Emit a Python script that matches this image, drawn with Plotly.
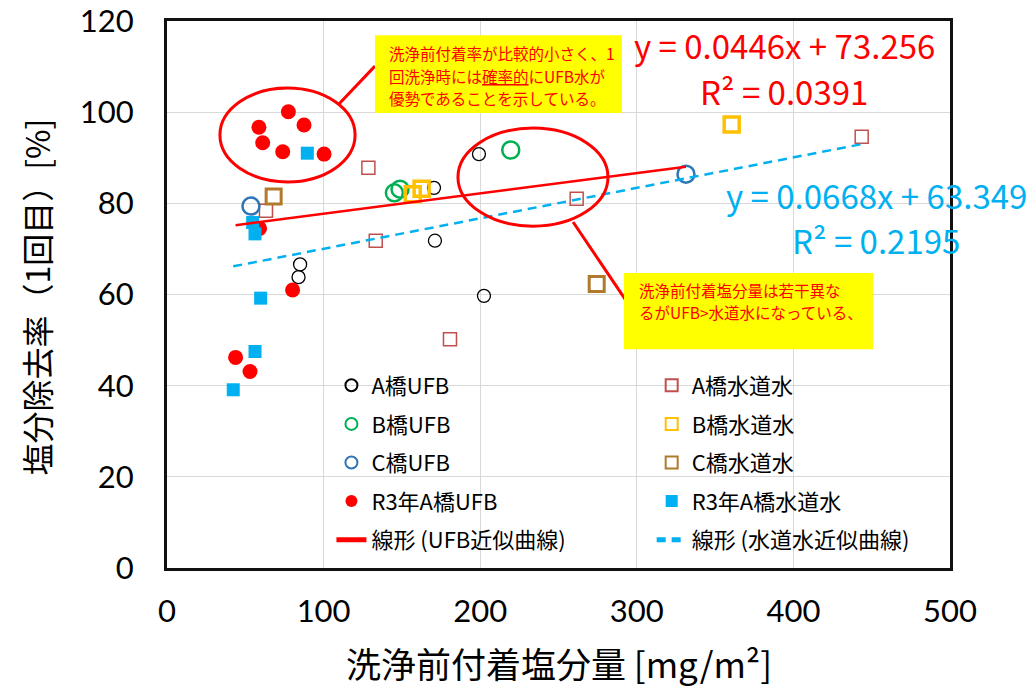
import plotly.graph_objects as go

# 洗浄前付着塩分量 [mg/m²] と 塩分除去率(1回目) [%]
a_ufb_x = [199.2, 170.5, 171.1, 85.0, 84.0, 202.4]
a_ufb_y = [90.8, 83.4, 71.8, 66.6, 63.8, 59.7]
a_tap_x = [128.6, 133.3, 180.7, 261.6, 443.6, 63.2]
a_tap_y = [87.8, 71.8, 50.2, 81.0, 94.6, 78.4]
b_ufb_x = [219.5, 145.2, 148.8]
b_ufb_y = [91.7, 82.3, 83.1]
b_tap_x = [156.9, 162.6, 360.6]
b_tap_y = [82.0, 83.2, 97.3]
c_ufb_x = [53.6, 331.4]
c_ufb_y = [79.4, 86.4]
c_tap_x = [68.1, 274.4]
c_tap_y = [81.5, 62.3]
r3_ufb_x = [77.5, 87.5, 58.7, 61.1, 73.9, 100.3, 59.1, 80.2, 43.8, 53.0]
r3_ufb_y = [100.1, 97.2, 96.7, 93.3, 91.3, 90.8, 74.5, 61.0, 46.2, 43.1]
r3_tap_x = [89.6, 54.7, 56.2, 59.8, 56.2, 42.3]
r3_tap_y = [91.0, 75.8, 73.3, 59.2, 47.5, 39.1]

# 近似直線の係数 (y = slope * x + intercept)
ufb_slope, ufb_intercept, ufb_r2 = 0.0446, 73.256, 0.0391
tap_slope, tap_intercept, tap_r2 = 0.0668, 63.349, 0.2195

x_ticks = [0, 100, 200, 300, 400, 500]
y_ticks = [0, 20, 40, 60, 80, 100, 120]

FONT = "Noto Sans CJK JP"
TICK_FONT = "Lato"
RED = "#FF0000"
CYAN = "#00B0F0"

fig = go.Figure()


def scatter(x, y, name, legend, symbol, size, fill, line_color, line_width):
    fig.add_trace(go.Scatter(
        x=x, y=y, mode="markers", name=name, legend=legend, legendgroup=name,
        marker=dict(symbol=symbol, size=size, color=fill,
                    line=dict(color=line_color, width=line_width)),
        cliponaxis=False,
    ))


scatter(a_ufb_x, a_ufb_y, "A橋UFB", "legend", "circle-open", 13, "#000000", "#000000", 1.3)
scatter(a_tap_x, a_tap_y, "A橋水道水", "legend2", "square-open", 13, "#C0504D", "#C0504D", 1.5)
scatter(b_ufb_x, b_ufb_y, "B橋UFB", "legend", "circle-open", 17, "#00B050", "#00B050", 2.5)
scatter(b_tap_x, b_tap_y, "B橋水道水", "legend2", "square-open", 15, "#FFC000", "#FFC000", 3.5)
scatter(c_ufb_x, c_ufb_y, "C橋UFB", "legend", "circle-open", 17, "#2E75B6", "#2E75B6", 2.5)
scatter(c_tap_x, c_tap_y, "C橋水道水", "legend2", "square-open", 15, "#B07A2A", "#B07A2A", 3)
scatter(r3_ufb_x, r3_ufb_y, "R3年A橋UFB", "legend", "circle", 15, RED, RED, 0)
scatter(r3_tap_x, r3_tap_y, "R3年A橋水道水", "legend2", "square", 13, CYAN, CYAN, 0)

# 近似直線: UFB 系列と水道水系列それぞれの x 範囲で描く
ufb_all_x = a_ufb_x + b_ufb_x + c_ufb_x + r3_ufb_x
tap_all_x = a_tap_x + b_tap_x + c_tap_x + r3_tap_x
ux = [min(ufb_all_x), max(ufb_all_x)]
tx = [min(tap_all_x), max(tap_all_x)]
fig.add_trace(go.Scatter(
    x=ux, y=[ufb_slope * v + ufb_intercept for v in ux], mode="lines",
    name="線形 (UFB近似曲線)", legend="legend", legendgroup="ufb_fit",
    line=dict(color=RED, width=2.5),
))
fig.add_trace(go.Scatter(
    x=tx, y=[tap_slope * v + tap_intercept for v in tx], mode="lines",
    name="線形 (水道水近似曲線)", legend="legend2", legendgroup="tap_fit",
    line=dict(color=CYAN, width=2.5, dash="9px,6px"),
))

shapes = [
    # 丸囲み
    dict(type="circle", xref="x", yref="y", x0=33.8, x1=120.1, y0=84.7, y1=105.3,
         line=dict(color=RED, width=3), layer="above"),
    dict(type="circle", xref="x", yref="y", x0=185.8, x1=281.6, y0=75.0, y1=96.5,
         line=dict(color=RED, width=3), layer="above"),
    # 引出線
    dict(type="line", xref="x", yref="y", x0=109.8, y0=101.8, x1=132.8, y1=110.1,
         line=dict(color=RED, width=3), layer="above"),
    dict(type="line", xref="x", yref="y", x0=259.3, y0=75.9, x1=293.7, y1=58.4,
         line=dict(color=RED, width=3), layer="above"),
    # コメント枠
    dict(type="rect", xref="x", yref="y", x0=132.8, x1=290.5, y0=99.8, y1=116.9,
         fillcolor="#FFFF00", line=dict(width=0), layer="above"),
    dict(type="rect", xref="x", yref="y", x0=291.8, x1=450.8, y0=48.0, y1=64.7,
         fillcolor="#FFFF00", line=dict(width=0), layer="above"),
]

annotations = []


def note(x, y, text, size, color, xanchor="left", xref="x", yref="y", angle=0):
    annotations.append(dict(
        x=x, y=y, xref=xref, yref=yref, text=text, showarrow=False,
        xanchor=xanchor, yanchor="middle", textangle=angle,
        font=dict(family=FONT, size=size, color=color),
    ))


# コメント文
note(140.8, 113.0, "洗浄前付着率が比較的小さく、1", 15.5, RED)
note(140.8, 108.0, "回洗浄時には<u>確率的</u>にUFB水が", 15.5, RED)
note(140.8, 103.2, "優勢であることを示している。", 15.5, RED)
note(300.0, 60.9, "洗浄前付着塩分量は若干異な", 15.5, RED)
note(300.0, 56.1, "るがUFB>水道水になっている、", 15.5, RED)

# 近似式
note(394.0, 114.8, f"y = {ufb_slope}x + {ufb_intercept}", 33, RED, "center")
note(394.0, 104.7, f"R² = {ufb_r2}", 33, RED, "center")
note(452.8, 81.8, f"y = {tap_slope}x + {tap_intercept}", 33, CYAN, "center")
note(452.8, 72.0, f"R² = {tap_r2}", 33, CYAN, "center")

# 軸タイトル
note(0.5006, -0.172, "洗浄前付着塩分量 [mg/m²]", 35, "#000000", "center", "paper", "paper")
note(-0.167, 0.495, "塩分除去率（1回目）[%]", 32, "#000000", "center", "paper", "paper", -90)

axis_common = dict(
    showgrid=True, gridcolor="#D9D9D9", gridwidth=1.3,
    showline=True, linecolor="#111111", linewidth=3, mirror=True,
    zeroline=False, ticks="", ticklabeloverflow="allow",
    tickfont=dict(family=TICK_FONT, size=31, color="#000000"),
)

fig.update_layout(
    width=1036, height=689,
    margin=dict(l=167, r=86, t=21, b=121, autoexpand=False),
    paper_bgcolor="white", plot_bgcolor="white",
    font=dict(family=FONT, color="#000000"),
    xaxis=dict(range=[0, 500], tickvals=x_ticks, ticklabelstandoff=14, **axis_common),
    yaxis=dict(range=[0, 120], tickvals=y_ticks, ticklabelstandoff=24, **axis_common),
    shapes=shapes,
    annotations=annotations,
    legend=dict(x=0.210, y=0.372, xanchor="left", yanchor="top",
                bgcolor="rgba(0,0,0,0)", tracegroupgap=7, itemsizing="constant",
                font=dict(family=FONT, size=22, color="#000000")),
    legend2=dict(x=0.619, y=0.372, xanchor="left", yanchor="top",
                 bgcolor="rgba(0,0,0,0)", tracegroupgap=7, itemsizing="constant",
                 font=dict(family=FONT, size=22, color="#000000")),
)

fig.write_html("out.html")
